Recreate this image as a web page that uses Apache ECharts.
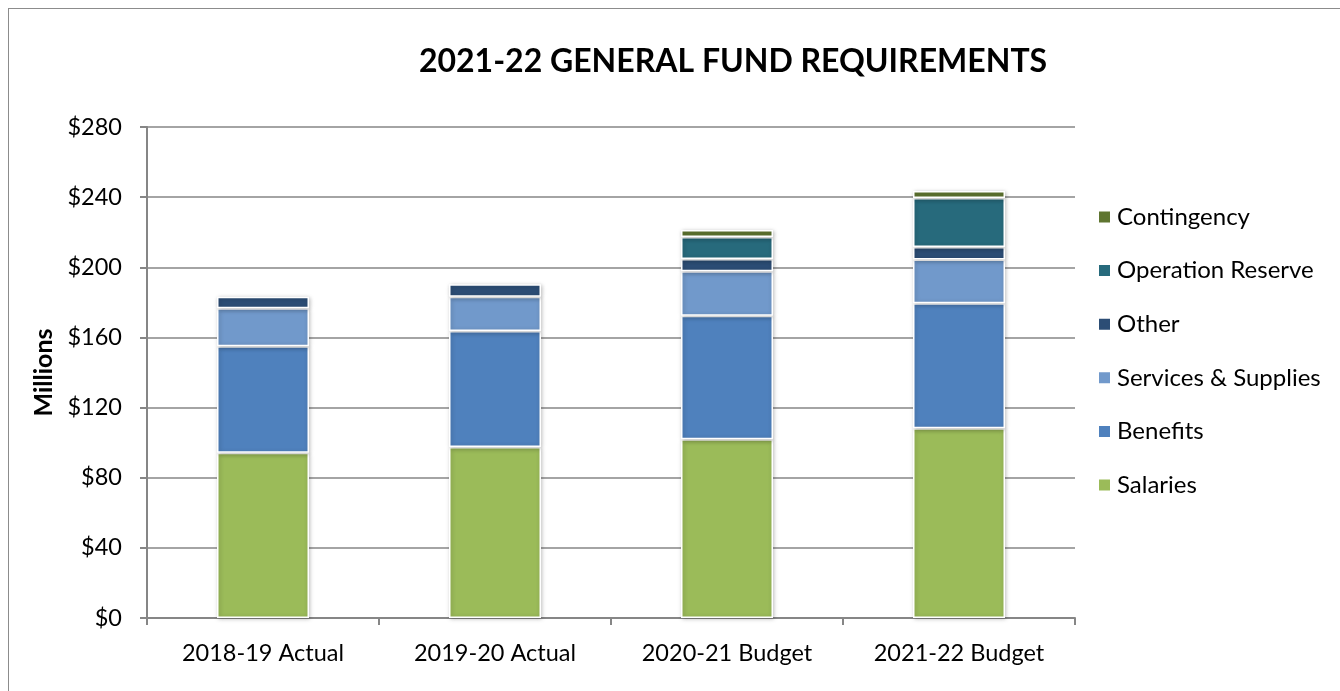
<!DOCTYPE html>
<html>
<head>
<meta charset="utf-8">
<script src="https://cdn.jsdelivr.net/npm/echarts@6/dist/echarts.min.js"></script>
<style>
  html, body { margin: 0; padding: 0; background: #fff; }
  #frame {
    position: absolute; left: 8px; top: 8px; width: 1340px; height: 700px;
    border-left: 1px solid #8c8c8c; border-top: 1px solid #8c8c8c;
    box-sizing: border-box;
  }
  #myChart { position: absolute; left: 0; top: 0; width: 1340px; height: 691px; }
</style>
</head>
<body>
<div id="frame"></div>
<div id="myChart"></div>
<script>
// categories + segment values (millions)
const categories = ["2018-19 Actual", "2019-20 Actual", "2020-21 Budget", "2021-22 Budget"];
const salaries = [94.3, 97.5, 101.9, 108.2];
const benefits = [60.6, 66.2, 70.5, 71.3];
const services = [21.7, 19.5, 25.3, 25.0];
const other = [6.6, 7.1, 7.0, 7.1];
const opReserve = [null, null, 12.6, 27.9];
const contingency = [null, null, 4.0, 4.0];
const yTicks = [0, 40, 80, 120, 160, 200, 240, 280];

const font = "Lato, 'Open Sans', sans-serif";
const chart = echarts.init(document.getElementById("myChart"));

function seg(name, data, color) {
  return {
    name: name,
    type: "bar",
    stack: "total",
    barWidth: 92,
    data: data,
    itemStyle: {
      color: color,
      borderColor: "#fff",
      borderWidth: 1.5,
      shadowBlur: 4,
      shadowColor: "rgba(0,0,0,0.25)",
      shadowOffsetX: 1,
      shadowOffsetY: 1,
    },
  };
}

const options = {
  animation: false,
  title: {
    text: "2021-22 GENERAL FUND REQUIREMENTS",
    left: 728,
    textAlign: "center",
    top: 41,
    textStyle: { fontFamily: font, fontSize: 32, fontWeight: "bold", color: "#000" },
  },
  legend: {
    orient: "vertical",
    left: 1092,
    top: 200,
    itemWidth: 13,
    itemHeight: 13,
    itemGap: 29.6,
    icon: "rect",
    data: ["Contingency", "Operation Reserve", "Other", "Services & Supplies", "Benefits", "Salaries"],
    textStyle: { fontFamily: font, fontSize: 24, color: "#000", padding: [0, 0, 0, 1] },
  },
  grid: { left: 147, right: 265, top: 127, bottom: 73 },
  xAxis: {
    type: "category",
    data: categories,
    axisLine: { lineStyle: { color: "#868686", width: 2 } },
    axisTick: { show: true, length: 7, lineStyle: { color: "#868686", width: 2 } },
    axisLabel: { fontFamily: font, fontSize: 23.5, color: "#000", margin: 23 },
  },
  yAxis: {
    type: "value",
    min: 0,
    max: yTicks[yTicks.length - 1],
    interval: 40,
    name: "Millions",
    nameLocation: "middle",
    nameGap: 90,
    nameTextStyle: { fontFamily: font, fontSize: 25, fontWeight: "bold", color: "#000" },
    axisLine: { show: true, lineStyle: { color: "#868686", width: 2 } },
    axisTick: { show: true, length: 7, lineStyle: { color: "#868686", width: 2 } },
    axisLabel: { fontFamily: font, fontSize: 23.5, color: "#000", margin: 25, formatter: "${value}" },
    splitLine: { lineStyle: { color: "#868686", width: 1.5 } },
  },
  series: [
    seg("Salaries", salaries, "#9BBB59"),
    seg("Benefits", benefits, "#4F81BD"),
    seg("Services & Supplies", services, "#7199CB"),
    seg("Other", other, "#2C4D75"),
    seg("Operation Reserve", opReserve, "#276A7C"),
    seg("Contingency", contingency, "#5F7530"),
  ],
};
chart.setOption(options);
</script>
</body>
</html>
